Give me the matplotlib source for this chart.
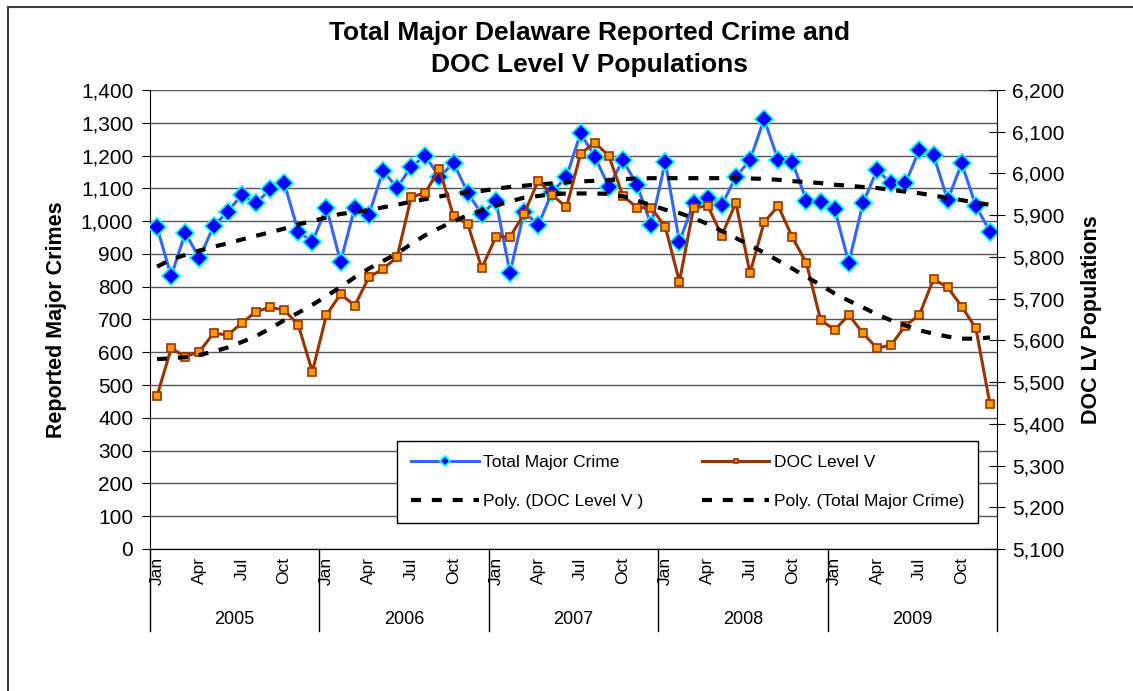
import numpy as np
import matplotlib
matplotlib.use("Agg")
import matplotlib.pyplot as plt
from matplotlib.ticker import FuncFormatter
from matplotlib.patches import Rectangle
import matplotlib.transforms as mtransforms

plt.rcParams['font.family'] = ['Liberation Sans', 'DejaVu Sans']

years = ['2005', '2006', '2007', '2008', '2009']
month_names = ['Jan', 'Apr', 'Jul', 'Oct']

# monthly values, Jan 2005 - Dec 2009
total_crime = [981, 832, 965, 886, 985, 1029, 1080, 1054, 1097, 1117, 968, 937,
               1041, 876, 1041, 1019, 1153, 1102, 1166, 1199, 1134, 1178, 1087, 1021,
               1062, 843, 1029, 988, 1090, 1135, 1268, 1197, 1105, 1186, 1110, 988,
               1181, 937, 1054, 1071, 1049, 1135, 1186, 1311, 1186, 1181, 1062, 1059,
               1036, 873, 1054, 1156, 1115, 1115, 1217, 1202, 1064, 1176, 1046, 968]
doc_level5 = [5467, 5581, 5561, 5573, 5617, 5613, 5641, 5669, 5679, 5673, 5637, 5525,
              5661, 5711, 5683, 5751, 5771, 5799, 5943, 5954, 6010, 5898, 5879, 5773,
              5848, 5848, 5903, 5983, 5948, 5919, 6047, 6074, 6042, 5946, 5918, 5918,
              5872, 5741, 5916, 5923, 5851, 5930, 5761, 5883, 5922, 5847, 5785, 5649,
              5625, 5661, 5617, 5581, 5589, 5635, 5661, 5747, 5727, 5681, 5629, 5447]

crime_trend = [861, 883, 897, 910, 922, 932, 944, 955, 966, 977, 990, 1000,
               1011, 1022, 1027, 1034, 1042, 1050, 1059, 1067, 1075, 1083, 1088, 1092,
               1099, 1104, 1108, 1112, 1115, 1118, 1121, 1123, 1125, 1128, 1130, 1131,
               1131, 1131, 1131, 1131, 1131, 1131, 1130, 1129, 1126, 1122, 1119, 1116,
               1111, 1108, 1104, 1101, 1095, 1090, 1085, 1078, 1071, 1064, 1056, 1050]
doc_trend = [5555, 5557, 5560, 5565, 5573, 5583, 5596, 5610, 5628, 5648, 5666, 5685,
             5706, 5728, 5751, 5772, 5790, 5808, 5831, 5852, 5869, 5885, 5900, 5912,
             5923, 5933, 5942, 5946, 5950, 5952, 5952, 5952, 5951, 5945, 5935, 5924,
             5913, 5905, 5893, 5879, 5862, 5845, 5828, 5810, 5791, 5772, 5752, 5733,
             5712, 5695, 5679, 5662, 5648, 5636, 5624, 5616, 5609, 5604, 5604, 5607]

x = np.arange(len(total_crime))

fig = plt.figure(figsize=(11.33, 6.91), dpi=100)
ax = fig.add_axes([0.1324, 0.2055, 0.7476, 0.6643])
ax2 = ax.twinx()

# outer chart border
fig.patches.append(Rectangle((0.0071, -0.5), 2, 1.4899, transform=fig.transFigure,
                             fill=False, edgecolor='#404040', lw=1.5))

l1, = ax.plot(x, total_crime, color='#3366FF', lw=2.2, marker='D', ms=9,
              mfc='#0000FF', mec='#00FFFF', mew=1.3, zorder=3)
t2, = ax.plot(x, crime_trend, color='black', lw=3, ls=(0, (2.4, 2.6)), zorder=4)
l2, = ax2.plot(x, doc_level5, color='#993300', lw=2.2, marker='s', ms=6,
               mfc='#FF9900', mec='#993300', mew=1.2, zorder=3)
t1, = ax2.plot(x, doc_trend, color='black', lw=3, ls=(0, (2.4, 2.6)), zorder=4)

ax.set_xlim(-0.5, 59.5)
ax.set_ylim(0, 1400)
ax2.set_ylim(5100, 6200)
ax.set_yticks(np.arange(0, 1401, 100))
ax2.set_yticks(np.arange(5100, 6201, 100))
fmt = FuncFormatter(lambda v, p: f'{v:,.0f}')
ax.yaxis.set_major_formatter(fmt)
ax2.yaxis.set_major_formatter(fmt)
ax.tick_params(axis='y', direction='out', length=6, labelsize=15, pad=6)
ax2.tick_params(axis='y', direction='inout', length=12, labelsize=15, pad=5)

ax.grid(axis='y', color='#555555', lw=1)
ax.set_axisbelow(True)
for a in (ax, ax2):
    a.spines['top'].set_visible(False)
ax2.spines['left'].set_visible(False)
ax.spines['right'].set_visible(False)
ax2.spines['right'].set_color('black')

# month labels and year groups
ticks = [i * 12 + m for i in range(len(years)) for m in (0, 3, 6, 9)]
ax.set_xticks(ticks)
ax.set_xticklabels(month_names * len(years), rotation=90, fontsize=12.5)
ax.tick_params(axis='x', length=0, pad=6)
trans = mtransforms.blended_transform_factory(ax.transData, ax.transAxes)
for i, yr in enumerate(years):
    ax.text(i * 12 + 5.5, -0.153, yr, transform=trans, ha='center', va='center', fontsize=13)
for b in range(len(years) + 1):
    ax.plot([b * 12 - 0.5] * 2, [0, -0.1786], transform=trans, color='black', lw=1, clip_on=False)

ax.set_ylabel('Reported Major Crimes', fontsize=15.5, fontweight='bold', labelpad=10)
ax2.set_ylabel('DOC LV Populations', fontsize=15.5, fontweight='bold', labelpad=12)

fig.text(0.5207, 0.929, 'Total Major Delaware Reported Crime and\nDOC Level V Populations',
         ha='center', va='center', fontsize=19, fontweight='bold', linespacing=1.45)

leg = ax2.legend([l1, t1, l2, t2],
                 ['Total Major Crime', 'Poly. (DOC Level V )', 'DOC Level V', 'Poly. (Total Major Crime)'],
                 ncol=2, loc='lower left', bbox_to_anchor=(0.2916, 0.057, 0.686, 0.176),
                 mode='expand', fontsize=12.5, handlelength=3.9, handletextpad=0.25,
                 labelspacing=1.35, borderpad=0.8, fancybox=False,
                 edgecolor='black', framealpha=1, borderaxespad=0, markerscale=0.6)
leg.get_frame().set_linewidth(1)

fig.savefig('out.png', dpi=100)
